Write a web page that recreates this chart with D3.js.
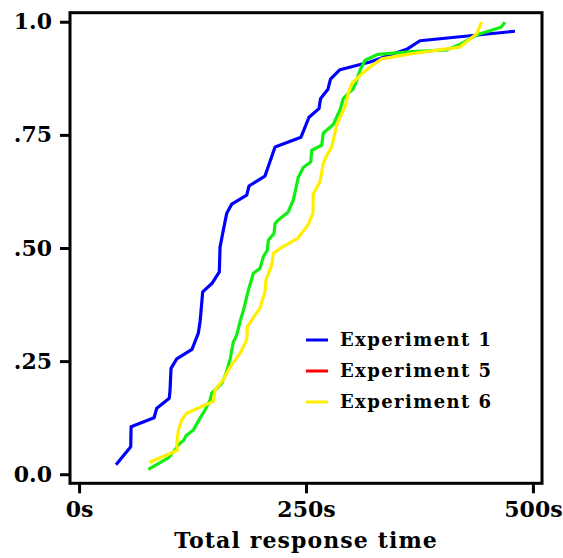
<!DOCTYPE html>
<html>
<head>
<meta charset="utf-8">
<script src="https://cdn.jsdelivr.net/npm/d3@7"></script>
<style>
  body { margin: 0; background: #fff; }
  text { font-family: "DejaVu Serif", serif; font-weight: bold; fill: #000; }
</style>
</head>
<body>
<script>
// response times (s) and cumulative fractions
const exp1Time = [40.7, 56.9, 57.3, 82.6, 85.6, 99.4, 100.2, 101.3, 107.6, 124.4, 131.4, 133.3, 136.2, 146.5, 154.5, 155.3, 158.3, 162.7, 168.2, 184.7, 187.2, 204.8, 215.9, 244.5, 253.3, 264.3, 266, 274.2, 277, 287.4, 320.5, 360.9, 375.6, 480.2];
const exp1Frac = [0.021, 0.061, 0.105, 0.125, 0.146, 0.168, 0.186, 0.234, 0.255, 0.276, 0.312, 0.337, 0.403, 0.422, 0.447, 0.502, 0.533, 0.577, 0.597, 0.617, 0.637, 0.659, 0.723, 0.745, 0.789, 0.808, 0.830, 0.851, 0.873, 0.894, 0.911, 0.939, 0.958, 0.979];

const exp5Time = [76.3, 98.3, 105.7, 109.4, 115.6, 117.8, 125.9, 133.3, 138.8, 144.3, 146.1, 157.2, 161.9, 166.3, 169.9, 173.7, 177.3, 181.7, 186.5, 192, 199.3, 203, 207.4, 208.5, 214.8, 215.9, 219.5, 230.2, 236, 241.5, 247, 255.2, 256.3, 267.3, 269.1, 280.1, 287.4, 291.1, 296.6, 302.1, 305.8, 309.5, 315, 329.3, 367.8, 405.3, 419.6, 439.4, 464.8, 469.2];
const exp5Frac = [0.011, 0.036, 0.054, 0.065, 0.076, 0.085, 0.098, 0.124, 0.142, 0.164, 0.179, 0.201, 0.223, 0.253, 0.292, 0.308, 0.337, 0.367, 0.407, 0.444, 0.455, 0.481, 0.495, 0.517, 0.532, 0.554, 0.562, 0.579, 0.606, 0.656, 0.678, 0.690, 0.716, 0.727, 0.754, 0.773, 0.805, 0.830, 0.842, 0.852, 0.870, 0.893, 0.915, 0.928, 0.934, 0.938, 0.950, 0.972, 0.988, 0.999];

const exp6Time = [77.4, 108.3, 107.6, 109.4, 113.1, 118.6, 147.9, 149.8, 158.9, 165.5, 177.3, 184.7, 185.4, 192.7, 199.3, 204.8, 205.9, 212.2, 214, 221.4, 241.2, 252.2, 257.7, 258, 265.4, 269.1, 272, 278.3, 283.8, 289.3, 293, 296.6, 300.3, 309.5, 320.5, 333.4, 364.5, 419.6, 428.7, 438, 443.5];
const exp6Frac = [0.026, 0.053, 0.065, 0.098, 0.120, 0.135, 0.161, 0.186, 0.209, 0.234, 0.267, 0.297, 0.326, 0.348, 0.367, 0.403, 0.429, 0.462, 0.488, 0.499, 0.522, 0.551, 0.577, 0.620, 0.646, 0.687, 0.701, 0.723, 0.771, 0.797, 0.812, 0.841, 0.863, 0.881, 0.900, 0.918, 0.929, 0.944, 0.959, 0.973, 0.999];

const legendNames = ["Experiment 1", "Experiment 5", "Experiment 6"];
const legendColors = ["#0000ff", "#ff0000", "#ffee00"];
const xTicks = [0, 250, 500];
const yTicks = [0, 0.25, 0.5, 0.75, 1.0];
const yTickLabels = ["0.0", ".25", ".50", ".75", "1.0"];

const width = 563, height = 558;
const plotLeft = 70, plotRight = 542, plotTop = 12.7, plotBottom = 483.3;

const svg = d3.select("body").append("svg")
    .attr("width", width)
    .attr("height", height);

const x = d3.scaleLinear().domain([-10, 510]).range([plotLeft, plotRight]);
const y = d3.scaleLinear().domain([-0.02, 1.02]).range([plotBottom, plotTop]);

const line = d3.line()
    .x(d => x(d[0]))
    .y(d => y(d[1]));

const series = [
    { t: exp1Time, f: exp1Frac, color: "#0000ff" },
    { t: exp5Time, f: exp5Frac, color: "#11ee11" },
    { t: exp6Time, f: exp6Frac, color: "#ffee00" }
];

svg.selectAll(".curve")
    .data(series)
    .enter()
    .append("path")
    .attr("class", "curve")
    .attr("fill", "none")
    .attr("stroke", d => d.color)
    .attr("stroke-width", 3.2)
    .attr("stroke-linejoin", "round")
    .attr("d", d => line(d3.zip(d.t, d.f)));

// frame
svg.append("rect")
    .attr("x", plotLeft)
    .attr("y", plotTop)
    .attr("width", plotRight - plotLeft)
    .attr("height", plotBottom - plotTop)
    .attr("fill", "none")
    .attr("stroke", "#000")
    .attr("stroke-width", 3);

// axes
const xAxis = svg.append("g")
    .attr("transform", `translate(0,${plotBottom})`)
    .call(d3.axisBottom(x).tickValues(xTicks).tickSize(10).tickPadding(8).tickFormat(d => d + "s"));
const yAxis = svg.append("g")
    .attr("transform", `translate(${plotLeft},0)`)
    .call(d3.axisLeft(y).tickValues(yTicks).tickSize(10).tickPadding(8).tickFormat((d, i) => yTickLabels[i]));

[xAxis, yAxis].forEach(g => {
    g.select(".domain").remove();
    g.selectAll(".tick line").attr("stroke", "#000").attr("stroke-width", 3);
    g.selectAll(".tick text").attr("font-size", 22).attr("font-family", null);
});

svg.append("text")
    .attr("x", (x(0) + x(500)) / 2)
    .attr("y", 548)
    .attr("text-anchor", "middle")
    .attr("font-size", 22)
    .attr("letter-spacing", 1.1)
    .text("Total response time");

// legend
const legend = svg.selectAll(".legend")
    .data(legendNames)
    .enter()
    .append("g")
    .attr("class", "legend")
    .attr("transform", (d, i) => `translate(306,${340 + i * 31})`);

legend.append("line")
    .attr("x1", 0).attr("x2", 22)
    .attr("stroke", (d, i) => legendColors[i])
    .attr("stroke-width", 3);

legend.append("text")
    .attr("x", 34)
    .attr("dy", "0.35em")
    .attr("font-size", 18)
    .attr("letter-spacing", 1.4)
    .text(d => d);
</script>
</body>
</html>
